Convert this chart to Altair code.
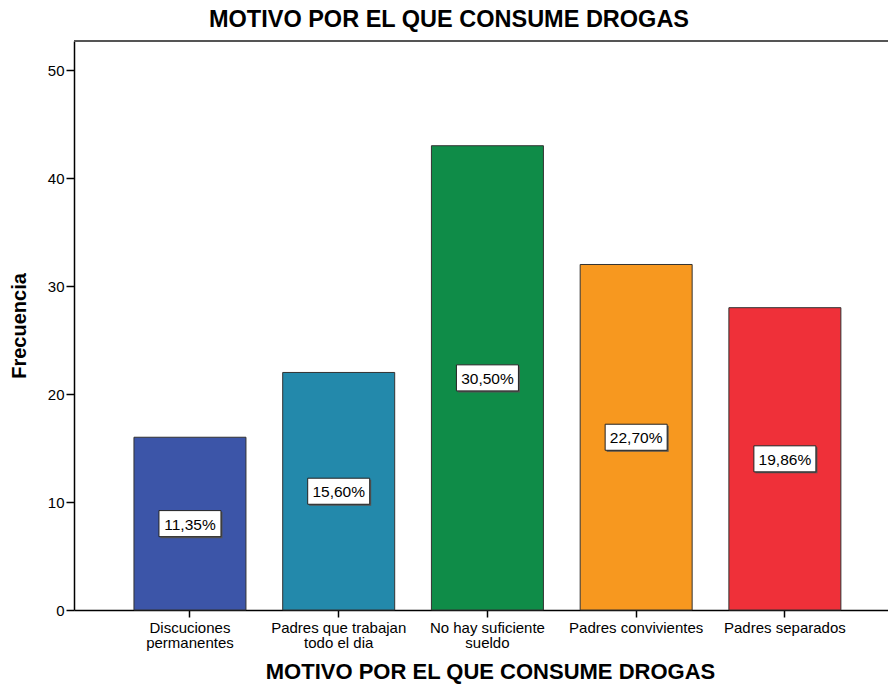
import altair as alt
import pandas as pd

categories = ["Discuciones permanentes", "Padres que trabajan todo el dia",
              "No hay suficiente sueldo", "Padres convivientes", "Padres separados"]
label_lines = [["Discuciones", "permanentes"], ["Padres que trabajan", "todo el dia"],
               ["No hay suficiente", "sueldo"], ["Padres convivientes"], ["Padres separados"]]
frecuencias = [16, 22, 43, 32, 28]
porcentajes = ["11,35%", "15,60%", "30,50%", "22,70%", "19,86%"]
colors = ["#3C55A8", "#2389AB", "#0F8C48", "#F7981F", "#EF3039"]
y_ticks = [0, 10, 20, 30, 40, 50]

df = pd.DataFrame({
    "cat": categories,
    "freq": frecuencias,
    "pct": porcentajes,
})
df["mid"] = df["freq"] / 2

FONT = "Liberation Sans"
W, H = 814, 569

expr = ""
for c, lines in zip(categories, label_lines):
    arr = "[" + ",".join("'" + l + "'" for l in lines) + "]"
    expr += f"datum.label == '{c}' ? {arr} : "
expr += "datum.label"

xenc = alt.X("cat:N", sort=categories,
             scale=alt.Scale(paddingInner=0.247, paddingOuter=0.36, align=0.56),
             axis=alt.Axis(title="MOTIVO POR EL QUE CONSUME DROGAS", labelAngle=0,
                           labelExpr=expr, labelFont=FONT, labelFontSize=15,
                           labelColor="#000", labelPadding=3, labelLineHeight=15.5,
                           tickSize=7, tickColor="#000", tickWidth=1.5,
                           domainColor="#000", domainWidth=1.5,
                           titleFont=FONT, titleFontSize=22, titleFontWeight="bold",
                           titleColor="#000", titleX=416, titlePadding=11))
yscale = alt.Scale(domain=[0, 52.7], nice=False)

bars = alt.Chart(df).mark_bar(stroke="#333", strokeWidth=1).encode(
    x=xenc,
    y=alt.Y("freq:Q", scale=yscale,
            axis=alt.Axis(title="Frecuencia", values=y_ticks, grid=False,
                          labelFont=FONT, labelFontSize=15, labelColor="#000",
                          labelPadding=2, tickSize=8, tickColor="#000", tickWidth=1.5,
                          domainColor="#000", domainWidth=1.5,
                          titleFont=FONT, titleFontSize=20, titleFontWeight="bold",
                          titleColor="#000", titlePadding=18)),
    color=alt.Color("cat:N", scale=alt.Scale(domain=categories, range=colors), legend=None),
)

box_shape = "M-1,-0.42H1V0.42H-1Z"
shadow = alt.Chart(df).mark_point(shape=box_shape, size=3844, filled=True,
                                  fill="#555", opacity=1, xOffset=1.5, yOffset=1.5,
                                  strokeWidth=0).encode(
    x=alt.X("cat:N", sort=categories), y=alt.Y("mid:Q", scale=yscale))
boxes = alt.Chart(df).mark_point(shape=box_shape, size=3844, filled=True,
                                 fill="white", stroke="#222", strokeWidth=1,
                                 opacity=1).encode(
    x=alt.X("cat:N", sort=categories), y=alt.Y("mid:Q", scale=yscale))
texts = alt.Chart(df).mark_text(font=FONT, fontSize=15.5, color="#000",
                                baseline="middle", align="center", dy=1).encode(
    x=alt.X("cat:N", sort=categories), y=alt.Y("mid:Q", scale=yscale), text="pct:N")

top_line = alt.Chart(df).mark_rule(color="#555", strokeWidth=2).encode(
    x=alt.value(0), x2=alt.value(W), y=alt.value(0))

chart = alt.layer(bars, shadow, boxes, texts, top_line).properties(
    width=W, height=H,
    title=alt.Title("MOTIVO POR EL QUE CONSUME DROGAS", font=FONT, fontSize=23.5,
                    fontWeight="bold", color="#000", anchor="middle", dx=-32, offset=9),
    autosize=alt.AutoSizeParams(type="none"),
    padding={"left": 74, "top": 41, "right": 0, "bottom": 78},
).configure_view(stroke=None, fill="#F0F0F0").configure(background="white")

chart.save("out.html", embed_options={"renderer": "svg", "actions": False})
